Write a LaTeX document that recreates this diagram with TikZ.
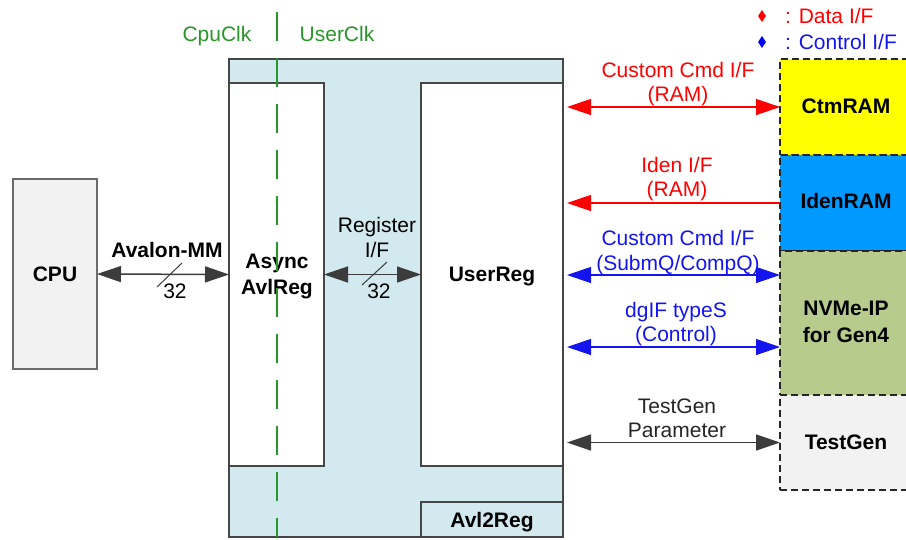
\documentclass[tikz,border=0pt]{standalone}
\usepackage{fontspec}
\setmainfont{Liberation Sans}
\usetikzlibrary{arrows.meta,shapes.geometric}
\definecolor{boxgray}{RGB}{70,70,70}
\definecolor{outerblue}{RGB}{210,233,239}
\definecolor{cpugray}{RGB}{242,242,242}
\definecolor{ctmyellow}{RGB}{255,255,0}
\definecolor{idenblue}{RGB}{0,153,255}
\definecolor{nvmegreen}{RGB}{183,203,140}
\definecolor{clkgreen}{RGB}{40,150,40}
\definecolor{arrgray}{RGB}{60,60,60}
\definecolor{lblue}{RGB}{20,20,240}
\begin{document}
\begin{tikzpicture}[x=1pt,y=-1pt,
  every node/.style={font=\fontsize{21}{26}\selectfont},
  box/.style={draw=boxgray, line width=1.5pt, inner sep=0pt, outer sep=0pt},
  blk/.style={draw=black!85, dash pattern=on 7pt off 4pt, line width=1.8pt, inner sep=0pt, outer sep=0pt,
              minimum width=132pt},
  bold/.style={font=\fontsize{21}{26}\selectfont\bfseries},
  tip/.tip={Triangle[length=24pt,width=16pt]},
  arr/.style={line width=1.5pt},
  lbl/.style={anchor=base, inner sep=0pt},
  clkline/.style={draw=clkgreen, line width=2pt, dash pattern=on 29pt off 17pt}
]
\useasboundingbox (0,0) rectangle (906,539);

% main boxes
\node[box, fill=outerblue, minimum width=334pt, minimum height=478pt] (outer) at (396,298) {};
\node[box, fill=white, minimum width=95pt, minimum height=383pt] (async) at (276.5,274.5) {};
\node[box, fill=white, minimum width=142pt, minimum height=383pt] (userreg) at (492,274.5) {};
\node[box, fill=outerblue, minimum width=142pt, minimum height=35pt] (avl2reg) at (492,519.5) {};
\node[box, draw=boxgray!80, fill=cpugray, minimum width=84pt, minimum height=190pt] (cpu) at (55,274) {};
\node[lbl, bold] (asynct1) at (277,268) {Async};
\node[lbl, bold] (asynct2) at (277,294) {AvlReg};
\node[lbl, bold] (userregt) at (492,281) {UserReg};
\node[lbl, bold] (avl2regt) at (492,527) {Avl2Reg};
\node[lbl, bold] (cput) at (55,281) {CPU};

% right blocks
\node[blk, fill=ctmyellow, minimum height=96pt] (ctm) at (846,107) {};
\node[blk, fill=idenblue, minimum height=96pt] (iden) at (846,203) {};
\node[blk, fill=nvmegreen, minimum height=144pt] (nvme) at (846,323) {};
\node[blk, fill=cpugray, minimum height=95pt] (testgen) at (846,442.5) {};
\node[lbl, bold] (ctmt) at (846,113) {CtmRAM};
\node[lbl, bold] (ident) at (846,208) {IdenRAM};
\node[lbl, bold] (nvmet1) at (846,315) {NVMe-IP};
\node[lbl, bold] (nvmet2) at (846,342) {for Gen4};
\node[lbl, bold] (testgent) at (846,449) {TestGen};

% left connectors
\draw[arr, draw=arrgray, tip-tip] (cpu.east) -- (async.west);
\draw[arr, draw=arrgray, tip-tip] (async.east) -- (userreg.west);
\coordinate (s1) at (169.5,275);
\draw[arrgray, line width=1pt] ([shift={(-12.5,12)}]s1) -- ([shift={(12.5,-12)}]s1);
\coordinate (s2) at (374.5,273.5);
\draw[arrgray, line width=1pt] ([shift={(-12.5,11.5)}]s2) -- ([shift={(12.5,-11.5)}]s2);
\node[lbl, bold] (avalon) at (167,257) {Avalon-MM};
\node[lbl] (w1) at (175,298) {32};
\node[lbl] (reg1) at (377,232) {Register};
\node[lbl] (reg2) at (377,257) {I/F};
\node[lbl] (w2) at (379,298) {32};

% right connectors
\coordinate (c1) at ([xshift=4pt]userreg.east |- ctm.west);
\coordinate (c2) at ([xshift=4pt]userreg.east |- iden.west);
\coordinate (n1) at ([yshift=48pt]nvme.west);
\coordinate (n2) at ([yshift=-24pt]nvme.west);
\coordinate (c3) at ([xshift=4pt]userreg.east |- n1);
\coordinate (c4) at ([xshift=4pt]userreg.east |- n2);
\coordinate (c5) at ([xshift=4pt]userreg.east |- testgen.west);
\draw[arr, red, line width=1.3pt, tip-tip] (c1) -- (ctm.west);
\draw[arr, red, line width=1.3pt, -tip] (iden.west) -- (c2);
\draw[arr, lblue, line width=1.3pt, tip-tip] (c3) -- (n1);
\draw[arr, lblue, line width=1.3pt, tip-tip] (c4) -- (n2);
\draw[arr, arrgray, tip-tip] (c5) -- (testgen.west);

\node[lbl, red] (l1a) at (678,77) {Custom Cmd I/F};
\node[lbl, red] (l1b) at (678,101) {(RAM)};
\node[lbl, red] (l2a) at (677,172) {Iden I/F};
\node[lbl, red] (l2b) at (677,196) {(RAM)};
\node[lbl, lblue] (l3a) at (678,245) {Custom Cmd I/F};
\node[lbl, lblue] (l3b) at (678,270) {(SubmQ/CompQ)};
\node[lbl, lblue] (l4a) at (676,317) {dgIF typeS};
\node[lbl, lblue] (l4b) at (676,341) {(Control)};
\node[lbl, black!85] (l5a) at (677,413) {TestGen};
\node[lbl, black!85] (l5b) at (677,437) {Parameter};

% legend
\node[diamond, fill=red, inner sep=0pt, minimum width=8pt, minimum height=12pt] (d1) at (762,16) {};
\node[diamond, fill=blue, inner sep=0pt, minimum width=8pt, minimum height=12pt] (d2) at (762,42) {};
\node[anchor=base west, inner sep=0pt, red] (t1) at (785,23) {: Data I/F};
\node[anchor=base west, inner sep=0pt, lblue] (t2) at (785,49) {: Control I/F};

% clock domain
\node[lbl, clkgreen] (cpuclk) at (217,41) {CpuClk};
\node[lbl, clkgreen] (userclk) at (337,41) {UserClk};
\coordinate (clktop) at (277,12);
\coordinate (clkbot) at (277,537);
\draw[clkline] (clktop) -- (clkbot);
\end{tikzpicture}
\end{document}
